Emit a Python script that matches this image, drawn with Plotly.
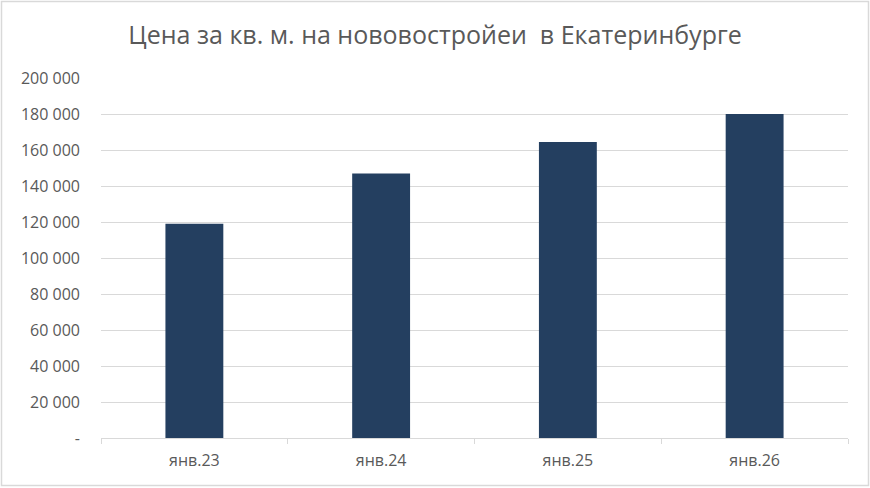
import plotly.graph_objects as go

categories = ["янв.23", "янв.24", "янв.25", "янв.26"]
prices = [119000, 147000, 164500, 180000]
tick_values = [0, 20000, 40000, 60000, 80000, 100000, 120000, 140000, 160000, 180000, 200000]
tick_labels = ["-", "20 000", "40 000", "60 000", "80 000", "100 000", "120 000",
               "140 000", "160 000", "180 000", "200 000"]
title_text = "Цена за кв. м. на нововостройеи&nbsp;&nbsp;в Екатеринбурге"

W, H = 870, 488
ml, mr, mt, mb = 101, 22, 78, 50
pw, ph = W - ml - mr, H - mt - mb

font_family = "Open Sans, sans-serif"
gray = "#595959"

fig = go.Figure(go.Bar(
    x=categories, y=prices,
    marker=dict(color="#243F60", line=dict(width=0)),
    hoverinfo="x+y",
))

fig.update_layout(
    width=W, height=H,
    margin=dict(l=ml, r=mr, t=mt, b=mb, pad=0),
    paper_bgcolor="white", plot_bgcolor="white",
    bargap=0.69,
    showlegend=False,
    font=dict(family=font_family, color=gray),
    title=dict(text=title_text, x=0.5, xanchor="center", xref="container",
               y=1 - 35 / H, yanchor="middle", yref="container",
               font=dict(size=25, color=gray, family=font_family)),
    xaxis=dict(
        showgrid=False, showline=True, linecolor="#d9d9d9", linewidth=1,
        ticks="outside", tickson="boundaries", ticklen=5, tickcolor="#d9d9d9",
        tickfont=dict(size=16, color=gray), zeroline=False,
        ticklabelstandoff=8,
    ),
    yaxis=dict(
        range=[0, 200000], tickvals=tick_values, ticktext=tick_labels,
        showgrid=True, gridcolor="#d9d9d9", gridwidth=1,
        zeroline=False, showline=False, ticks="", ticklabelstandoff=20,
        tickfont=dict(size=16, color=gray),
    ),
    shapes=[dict(
        type="rect", xref="paper", yref="paper",
        x0=(1.5 - ml) / pw, x1=(W - 1.5 - ml) / pw,
        y0=(-(mb) + 2.5) / ph, y1=(ph + mt - 1.5) / ph,
        line=dict(color="#d9d9d9", width=1.5), fillcolor="rgba(0,0,0,0)",
        layer="above",
    )],
)

fig.write_html("out.html",
               config={"displayModeBar": False},
               post_script="document.body.style.margin='0';document.body.style.overflow='hidden';")
